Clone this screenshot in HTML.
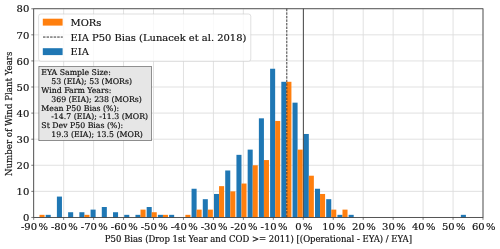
<!DOCTYPE html>
<html><head><meta charset="utf-8"><title>P50 Bias Histogram</title>
<style>html,body{margin:0;padding:0;background:#fff}body{width:500px;height:249px;overflow:hidden}</style></head>
<body>
<svg width="500" height="249" viewBox="0 0 500 249" style="display:block;font-family:'DejaVu Serif','Liberation Serif',serif">
<style>text{stroke:#111;stroke-width:0.18px;fill:#111}</style><rect width="500" height="249" fill="#fff"/>
<line x1="33.70" y1="8.75" x2="33.70" y2="217.45" stroke="#dedede" stroke-width="0.9"/>
<line x1="63.65" y1="8.75" x2="63.65" y2="217.45" stroke="#dedede" stroke-width="0.9"/>
<line x1="93.61" y1="8.75" x2="93.61" y2="217.45" stroke="#dedede" stroke-width="0.9"/>
<line x1="123.56" y1="8.75" x2="123.56" y2="217.45" stroke="#dedede" stroke-width="0.9"/>
<line x1="153.51" y1="8.75" x2="153.51" y2="217.45" stroke="#dedede" stroke-width="0.9"/>
<line x1="183.47" y1="8.75" x2="183.47" y2="217.45" stroke="#dedede" stroke-width="0.9"/>
<line x1="213.42" y1="8.75" x2="213.42" y2="217.45" stroke="#dedede" stroke-width="0.9"/>
<line x1="243.37" y1="8.75" x2="243.37" y2="217.45" stroke="#dedede" stroke-width="0.9"/>
<line x1="273.33" y1="8.75" x2="273.33" y2="217.45" stroke="#dedede" stroke-width="0.9"/>
<line x1="303.28" y1="8.75" x2="303.28" y2="217.45" stroke="#dedede" stroke-width="0.9"/>
<line x1="333.23" y1="8.75" x2="333.23" y2="217.45" stroke="#dedede" stroke-width="0.9"/>
<line x1="363.19" y1="8.75" x2="363.19" y2="217.45" stroke="#dedede" stroke-width="0.9"/>
<line x1="393.14" y1="8.75" x2="393.14" y2="217.45" stroke="#dedede" stroke-width="0.9"/>
<line x1="423.09" y1="8.75" x2="423.09" y2="217.45" stroke="#dedede" stroke-width="0.9"/>
<line x1="453.05" y1="8.75" x2="453.05" y2="217.45" stroke="#dedede" stroke-width="0.9"/>
<line x1="483.00" y1="8.75" x2="483.00" y2="217.45" stroke="#dedede" stroke-width="0.9"/>
<line x1="33.7" y1="217.45" x2="483.0" y2="217.45" stroke="#dedede" stroke-width="0.9"/>
<line x1="33.7" y1="191.36" x2="483.0" y2="191.36" stroke="#dedede" stroke-width="0.9"/>
<line x1="33.7" y1="165.27" x2="483.0" y2="165.27" stroke="#dedede" stroke-width="0.9"/>
<line x1="33.7" y1="139.19" x2="483.0" y2="139.19" stroke="#dedede" stroke-width="0.9"/>
<line x1="33.7" y1="113.10" x2="483.0" y2="113.10" stroke="#dedede" stroke-width="0.9"/>
<line x1="33.7" y1="87.01" x2="483.0" y2="87.01" stroke="#dedede" stroke-width="0.9"/>
<line x1="33.7" y1="60.93" x2="483.0" y2="60.93" stroke="#dedede" stroke-width="0.9"/>
<line x1="33.7" y1="34.84" x2="483.0" y2="34.84" stroke="#dedede" stroke-width="0.9"/>
<line x1="33.7" y1="8.75" x2="483.0" y2="8.75" stroke="#dedede" stroke-width="0.9"/>
<rect x="39.51" y="214.84" width="5.05" height="2.61" fill="#ff7f0e"/>
<rect x="45.68" y="214.84" width="5.05" height="2.61" fill="#1f77b4"/>
<rect x="56.90" y="196.58" width="5.05" height="20.87" fill="#1f77b4"/>
<rect x="68.12" y="212.23" width="5.05" height="5.22" fill="#1f77b4"/>
<rect x="79.35" y="212.23" width="5.05" height="5.22" fill="#1f77b4"/>
<rect x="84.39" y="214.84" width="5.05" height="2.61" fill="#ff7f0e"/>
<rect x="90.57" y="209.62" width="5.05" height="7.83" fill="#1f77b4"/>
<rect x="101.79" y="207.01" width="5.05" height="10.44" fill="#1f77b4"/>
<rect x="113.01" y="212.23" width="5.05" height="5.22" fill="#1f77b4"/>
<rect x="124.23" y="214.84" width="5.05" height="2.61" fill="#1f77b4"/>
<rect x="135.45" y="214.84" width="5.05" height="2.61" fill="#1f77b4"/>
<rect x="140.50" y="209.62" width="5.05" height="7.83" fill="#ff7f0e"/>
<rect x="146.67" y="207.01" width="5.05" height="10.44" fill="#1f77b4"/>
<rect x="151.72" y="212.23" width="5.05" height="5.22" fill="#ff7f0e"/>
<rect x="157.89" y="214.84" width="5.05" height="2.61" fill="#1f77b4"/>
<rect x="162.94" y="214.84" width="5.05" height="2.61" fill="#ff7f0e"/>
<rect x="169.11" y="214.84" width="5.05" height="2.61" fill="#1f77b4"/>
<rect x="185.38" y="214.84" width="5.05" height="2.61" fill="#ff7f0e"/>
<rect x="191.56" y="188.75" width="5.05" height="28.70" fill="#1f77b4"/>
<rect x="196.60" y="209.62" width="5.05" height="7.83" fill="#ff7f0e"/>
<rect x="202.78" y="199.19" width="5.05" height="18.26" fill="#1f77b4"/>
<rect x="207.83" y="209.62" width="5.05" height="7.83" fill="#ff7f0e"/>
<rect x="214.00" y="193.97" width="5.05" height="23.48" fill="#1f77b4"/>
<rect x="219.05" y="186.14" width="5.05" height="31.31" fill="#ff7f0e"/>
<rect x="225.22" y="170.49" width="5.05" height="46.96" fill="#1f77b4"/>
<rect x="230.27" y="191.36" width="5.05" height="26.09" fill="#ff7f0e"/>
<rect x="236.44" y="154.84" width="5.05" height="62.61" fill="#1f77b4"/>
<rect x="241.49" y="183.54" width="5.05" height="33.91" fill="#ff7f0e"/>
<rect x="247.66" y="149.62" width="5.05" height="67.83" fill="#1f77b4"/>
<rect x="252.71" y="165.27" width="5.05" height="52.18" fill="#ff7f0e"/>
<rect x="258.88" y="118.32" width="5.05" height="99.13" fill="#1f77b4"/>
<rect x="263.93" y="160.06" width="5.05" height="57.39" fill="#ff7f0e"/>
<rect x="270.10" y="68.75" width="5.05" height="148.70" fill="#1f77b4"/>
<rect x="275.15" y="120.93" width="5.05" height="96.52" fill="#ff7f0e"/>
<rect x="281.32" y="81.79" width="5.05" height="135.66" fill="#1f77b4"/>
<rect x="286.37" y="81.79" width="5.05" height="135.66" fill="#ff7f0e"/>
<rect x="292.54" y="102.66" width="5.05" height="114.78" fill="#1f77b4"/>
<rect x="297.59" y="149.62" width="5.05" height="67.83" fill="#ff7f0e"/>
<rect x="303.77" y="133.97" width="5.05" height="83.48" fill="#1f77b4"/>
<rect x="308.81" y="175.71" width="5.05" height="41.74" fill="#ff7f0e"/>
<rect x="314.99" y="188.75" width="5.05" height="28.70" fill="#1f77b4"/>
<rect x="320.04" y="193.97" width="5.05" height="23.48" fill="#ff7f0e"/>
<rect x="326.21" y="199.19" width="5.05" height="18.26" fill="#1f77b4"/>
<rect x="331.26" y="209.62" width="5.05" height="7.83" fill="#ff7f0e"/>
<rect x="337.43" y="214.84" width="5.05" height="2.61" fill="#1f77b4"/>
<rect x="342.48" y="209.62" width="5.05" height="7.83" fill="#ff7f0e"/>
<rect x="348.65" y="214.84" width="5.05" height="2.61" fill="#1f77b4"/>
<rect x="460.86" y="214.84" width="5.05" height="2.61" fill="#1f77b4"/>
<line x1="286.81" y1="8.75" x2="286.81" y2="217.45" stroke="#333" stroke-width="0.95" stroke-dasharray="2.5 1.05"/>
<line x1="303.40" y1="8.75" x2="303.40" y2="217.45" stroke="#222" stroke-width="0.8"/>
<rect x="33.7" y="8.75" width="449.30" height="208.70" fill="none" stroke="#383838" stroke-width="0.82"/>
<line x1="33.70" y1="217.45" x2="33.70" y2="219.85" stroke="#444" stroke-width="0.7"/>
<text x="34.40" y="230.45" font-size="9.98" text-anchor="middle" fill="#1a1a1a">-90<tspan dx="1.4">%</tspan></text>
<line x1="63.65" y1="217.45" x2="63.65" y2="219.85" stroke="#444" stroke-width="0.7"/>
<text x="64.35" y="230.45" font-size="9.98" text-anchor="middle" fill="#1a1a1a">-80<tspan dx="1.4">%</tspan></text>
<line x1="93.61" y1="217.45" x2="93.61" y2="219.85" stroke="#444" stroke-width="0.7"/>
<text x="94.31" y="230.45" font-size="9.98" text-anchor="middle" fill="#1a1a1a">-70<tspan dx="1.4">%</tspan></text>
<line x1="123.56" y1="217.45" x2="123.56" y2="219.85" stroke="#444" stroke-width="0.7"/>
<text x="124.26" y="230.45" font-size="9.98" text-anchor="middle" fill="#1a1a1a">-60<tspan dx="1.4">%</tspan></text>
<line x1="153.51" y1="217.45" x2="153.51" y2="219.85" stroke="#444" stroke-width="0.7"/>
<text x="154.21" y="230.45" font-size="9.98" text-anchor="middle" fill="#1a1a1a">-50<tspan dx="1.4">%</tspan></text>
<line x1="183.47" y1="217.45" x2="183.47" y2="219.85" stroke="#444" stroke-width="0.7"/>
<text x="184.17" y="230.45" font-size="9.98" text-anchor="middle" fill="#1a1a1a">-40<tspan dx="1.4">%</tspan></text>
<line x1="213.42" y1="217.45" x2="213.42" y2="219.85" stroke="#444" stroke-width="0.7"/>
<text x="214.12" y="230.45" font-size="9.98" text-anchor="middle" fill="#1a1a1a">-30<tspan dx="1.4">%</tspan></text>
<line x1="243.37" y1="217.45" x2="243.37" y2="219.85" stroke="#444" stroke-width="0.7"/>
<text x="244.07" y="230.45" font-size="9.98" text-anchor="middle" fill="#1a1a1a">-20<tspan dx="1.4">%</tspan></text>
<line x1="273.33" y1="217.45" x2="273.33" y2="219.85" stroke="#444" stroke-width="0.7"/>
<text x="274.03" y="230.45" font-size="9.98" text-anchor="middle" fill="#1a1a1a">-10<tspan dx="1.4">%</tspan></text>
<line x1="303.28" y1="217.45" x2="303.28" y2="219.85" stroke="#444" stroke-width="0.7"/>
<text x="303.98" y="230.45" font-size="9.98" text-anchor="middle" fill="#1a1a1a">0<tspan dx="1.4">%</tspan></text>
<line x1="333.23" y1="217.45" x2="333.23" y2="219.85" stroke="#444" stroke-width="0.7"/>
<text x="333.93" y="230.45" font-size="9.98" text-anchor="middle" fill="#1a1a1a">10<tspan dx="1.4">%</tspan></text>
<line x1="363.19" y1="217.45" x2="363.19" y2="219.85" stroke="#444" stroke-width="0.7"/>
<text x="363.89" y="230.45" font-size="9.98" text-anchor="middle" fill="#1a1a1a">20<tspan dx="1.4">%</tspan></text>
<line x1="393.14" y1="217.45" x2="393.14" y2="219.85" stroke="#444" stroke-width="0.7"/>
<text x="393.84" y="230.45" font-size="9.98" text-anchor="middle" fill="#1a1a1a">30<tspan dx="1.4">%</tspan></text>
<line x1="423.09" y1="217.45" x2="423.09" y2="219.85" stroke="#444" stroke-width="0.7"/>
<text x="423.79" y="230.45" font-size="9.98" text-anchor="middle" fill="#1a1a1a">40<tspan dx="1.4">%</tspan></text>
<line x1="453.05" y1="217.45" x2="453.05" y2="219.85" stroke="#444" stroke-width="0.7"/>
<text x="453.75" y="230.45" font-size="9.98" text-anchor="middle" fill="#1a1a1a">50<tspan dx="1.4">%</tspan></text>
<line x1="483.00" y1="217.45" x2="483.00" y2="219.85" stroke="#444" stroke-width="0.7"/>
<text x="483.70" y="230.45" font-size="9.98" text-anchor="middle" fill="#1a1a1a">60<tspan dx="1.4">%</tspan></text>
<line x1="31.300000000000004" y1="217.45" x2="33.7" y2="217.45" stroke="#444" stroke-width="0.7"/>
<text x="29.30" y="221.15" font-size="9.98" text-anchor="end" fill="#1a1a1a">0</text>
<line x1="31.300000000000004" y1="191.36" x2="33.7" y2="191.36" stroke="#444" stroke-width="0.7"/>
<text x="29.30" y="195.06" font-size="9.98" text-anchor="end" fill="#1a1a1a">10</text>
<line x1="31.300000000000004" y1="165.27" x2="33.7" y2="165.27" stroke="#444" stroke-width="0.7"/>
<text x="29.30" y="168.97" font-size="9.98" text-anchor="end" fill="#1a1a1a">20</text>
<line x1="31.300000000000004" y1="139.19" x2="33.7" y2="139.19" stroke="#444" stroke-width="0.7"/>
<text x="29.30" y="142.89" font-size="9.98" text-anchor="end" fill="#1a1a1a">30</text>
<line x1="31.300000000000004" y1="113.10" x2="33.7" y2="113.10" stroke="#444" stroke-width="0.7"/>
<text x="29.30" y="116.80" font-size="9.98" text-anchor="end" fill="#1a1a1a">40</text>
<line x1="31.300000000000004" y1="87.01" x2="33.7" y2="87.01" stroke="#444" stroke-width="0.7"/>
<text x="29.30" y="90.71" font-size="9.98" text-anchor="end" fill="#1a1a1a">50</text>
<line x1="31.300000000000004" y1="60.93" x2="33.7" y2="60.93" stroke="#444" stroke-width="0.7"/>
<text x="29.30" y="64.63" font-size="9.98" text-anchor="end" fill="#1a1a1a">60</text>
<line x1="31.300000000000004" y1="34.84" x2="33.7" y2="34.84" stroke="#444" stroke-width="0.7"/>
<text x="29.30" y="38.54" font-size="9.98" text-anchor="end" fill="#1a1a1a">70</text>
<line x1="31.300000000000004" y1="8.75" x2="33.7" y2="8.75" stroke="#444" stroke-width="0.7"/>
<text x="29.30" y="12.45" font-size="9.98" text-anchor="end" fill="#1a1a1a">80</text>
<text x="258.4" y="241.8" font-size="8.51" text-anchor="middle" fill="#1a1a1a">P50 Bias (Drop 1st Year and COD &gt;= 2011) [(Operational - EYA) / EYA]</text>
<text transform="translate(11.7,113.80) rotate(-90)" font-size="8.65" text-anchor="middle" fill="#1a1a1a">Number of Wind Plant Years</text>
<rect x="38.6" y="14" width="212.2" height="47.3" rx="2.3" ry="2.3" fill="#fff" fill-opacity="0.8" stroke="#ccc" stroke-opacity="0.8" stroke-width="0.8"/>
<rect x="42.8" y="18.7" width="19.8" height="6.9" fill="#ff7f0e"/>
<line x1="43" y1="37.05" x2="62.8" y2="37.05" stroke="#333" stroke-width="1" stroke-dasharray="2.5 1.05"/>
<rect x="42.8" y="48.2" width="19.8" height="6.9" fill="#1f77b4"/>
<text x="70.5" y="25.6" font-size="9.93" fill="#111">MORs</text>
<text x="70.5" y="40.6" font-size="9.93" fill="#111">EIA P50 Bias (Lunacek et al. 2018)</text>
<text x="70.5" y="55.3" font-size="9.93" fill="#111">EIA</text>
<rect x="38.9" y="66.5" width="112.5" height="74.2" fill="#e6e6e6" stroke="#4d4d4d" stroke-width="0.6"/>
<text x="41.3" y="74.90" font-size="7.8" fill="#111" xml:space="preserve" style="white-space:pre">EYA Sample Size:</text>
<text x="41.3" y="83.80" font-size="7.8" fill="#111" xml:space="preserve" style="white-space:pre">    53 (EIA); 53 (MORs)</text>
<text x="41.3" y="92.70" font-size="7.8" fill="#111" xml:space="preserve" style="white-space:pre">Wind Farm Years:</text>
<text x="41.3" y="101.60" font-size="7.8" fill="#111" xml:space="preserve" style="white-space:pre">    369 (EIA); 238 (MORs)</text>
<text x="41.3" y="110.50" font-size="7.8" fill="#111" xml:space="preserve" style="white-space:pre">Mean P50 Bias (%):</text>
<text x="41.3" y="119.40" font-size="7.8" fill="#111" xml:space="preserve" style="white-space:pre">    -14.7 (EIA); -11.3 (MOR)</text>
<text x="41.3" y="128.30" font-size="7.8" fill="#111" xml:space="preserve" style="white-space:pre">St Dev P50 Bias (%):</text>
<text x="41.3" y="137.20" font-size="7.8" fill="#111" xml:space="preserve" style="white-space:pre">    19.3 (EIA); 13.5 (MOR)</text>
</svg>
</body></html>
